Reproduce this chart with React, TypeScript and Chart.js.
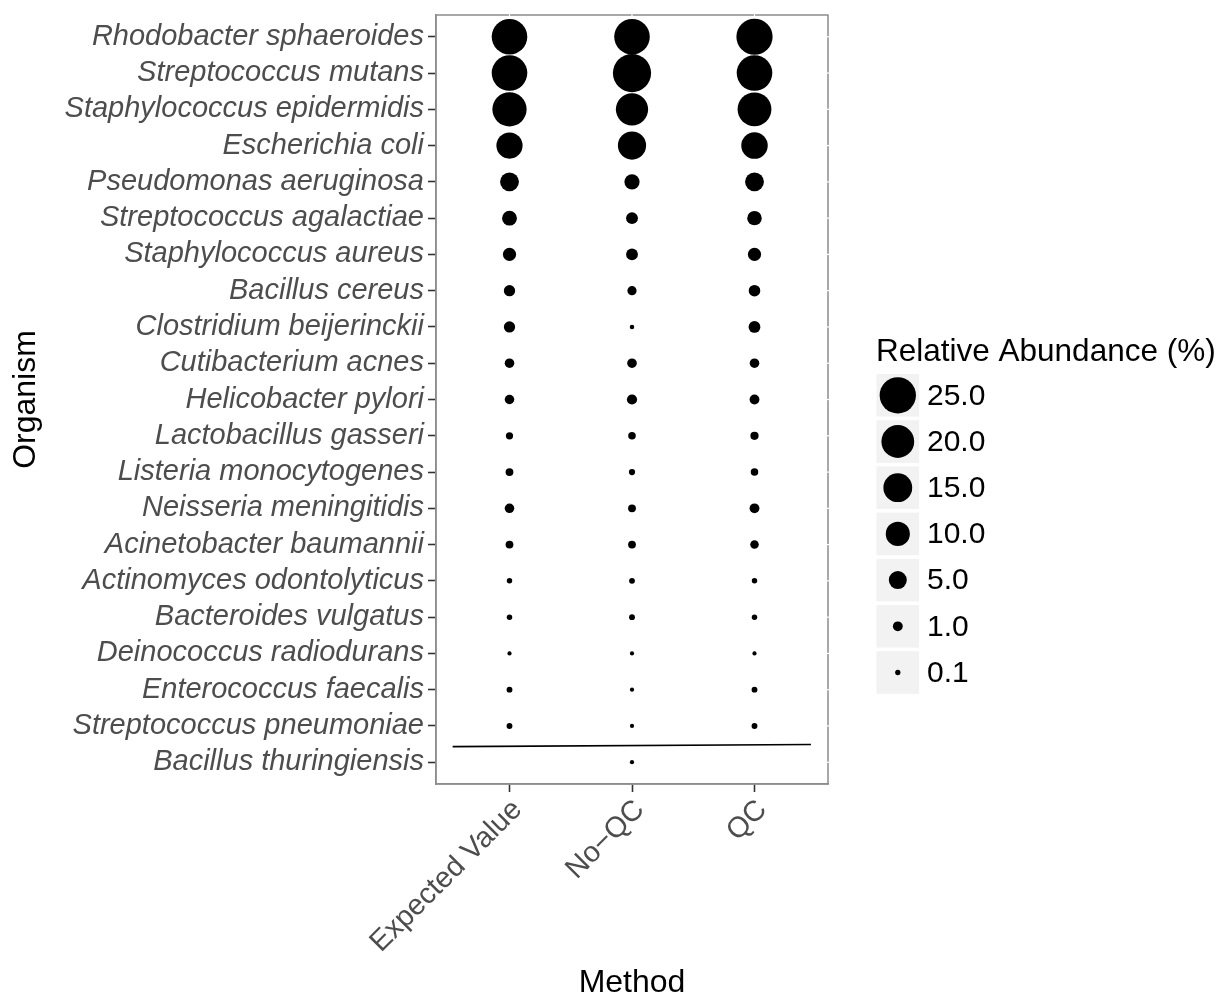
import React, { useEffect, useRef } from 'react';
import { Chart, registerables } from 'chart.js';

Chart.register(...registerables);

const FONT = '"Liberation Sans", Arial, Helvetica, sans-serif';

const methods = ['Expected Value', 'No\u2212QC', 'QC'];

const organisms = [
  'Rhodobacter sphaeroides',
  'Streptococcus mutans',
  'Staphylococcus epidermidis',
  'Escherichia coli',
  'Pseudomonas aeruginosa',
  'Streptococcus agalactiae',
  'Staphylococcus aureus',
  'Bacillus cereus',
  'Clostridium beijerinckii',
  'Cutibacterium acnes',
  'Helicobacter pylori',
  'Lactobacillus gasseri',
  'Listeria monocytogenes',
  'Neisseria meningitidis',
  'Acinetobacter baumannii',
  'Actinomyces odontolyticus',
  'Bacteroides vulgatus',
  'Deinococcus radiodurans',
  'Enterococcus faecalis',
  'Streptococcus pneumoniae',
  'Bacillus thuringiensis',
];

// Relative abundance (%) per organism, one array per method
const expectedValue: (number | null)[] = [24, 24, 22, 12.1, 5.6, 3.1, 2.3, 1.5, 1.5, 0.92, 0.92, 0.37, 0.49, 0.92, 0.49, 0.12, 0.12, 0.024, 0.16, 0.16, null];
const noQC: (number | null)[] = [24, 28, 19.3, 14.3, 3.3, 1.7, 1.7, 0.83, 0.04, 0.92, 1.13, 0.43, 0.21, 0.49, 0.49, 0.16, 0.16, 0.024, 0.024, 0.024, 0.024];
const qc: (number | null)[] = [24.9, 24, 21.4, 12.4, 5.6, 2.9, 2.3, 1.6, 1.7, 0.92, 1.0, 0.58, 0.43, 1.0, 0.65, 0.12, 0.12, 0.024, 0.16, 0.16, null];

const seriesValues = [expectedValue, noQC, qc];

// separator line (data units: method index, organism index)
const separatorX = [-0.464, 2.461];
const separatorY = [19.57, 19.51];

const legendTitle = 'Relative Abundance (%)';
const legendBreaks = [25, 20, 15, 10, 5, 1, 0.1];
const legendLabels = ['25.0', '20.0', '15.0', '10.0', '5.0', '1.0', '0.1'];

// size scale: diameter linear in sqrt(value)
const radiusFor = (v: number) => (3.2 + 6.615 * Math.sqrt(v)) / 2;

const framePlugin = {
  id: 'frame',
  afterDraw(chart: any) {
    const { ctx, chartArea, scales } = chart;
    const { left, top, right, bottom } = chartArea;
    ctx.save();
    ctx.strokeStyle = '#8c8c8c';
    ctx.lineWidth = 1.5;
    ctx.strokeRect(left, top, right - left, bottom - top);
    ctx.strokeStyle = '#ffffff';
    ctx.lineWidth = 1.2;
    organisms.forEach((_, i) => {
      const y = scales.y.getPixelForValue(i);
      ctx.beginPath();
      ctx.moveTo(right - 1.5, y);
      ctx.lineTo(right + 1.5, y);
      ctx.stroke();
    });
    methods.forEach((_, i) => {
      const x = scales.x.getPixelForValue(i);
      ctx.beginPath();
      ctx.moveTo(x, top - 1.5);
      ctx.lineTo(x, top + 1.5);
      ctx.stroke();
    });
    ctx.restore();
  },
};

const sizeLegendPlugin = {
  id: 'sizeLegend',
  afterDraw(chart: any) {
    const { ctx } = chart;
    ctx.save();
    ctx.textAlign = 'left';
    ctx.textBaseline = 'middle';
    ctx.fillStyle = '#000';
    ctx.font = `31.5px ${FONT}`;
    ctx.fillText(legendTitle, 876, 352);
    const boxX = 876.5;
    const boxSize = 42.6;
    legendBreaks.forEach((b, i) => {
      const cy = 395.3 + i * 46.2;
      ctx.fillStyle = '#f2f2f2';
      ctx.fillRect(boxX, cy - boxSize / 2, boxSize, boxSize);
      ctx.fillStyle = '#000';
      ctx.beginPath();
      ctx.arc(boxX + boxSize / 2, cy, radiusFor(b), 0, Math.PI * 2);
      ctx.fill();
      ctx.font = `30px ${FONT}`;
      ctx.fillText(legendLabels[i], 927, cy + 1);
    });
    ctx.restore();
  },
};

export default function App() {
  const canvasRef = useRef<HTMLCanvasElement | null>(null);

  useEffect(() => {
    if (!canvasRef.current) return;
    Chart.defaults.font.family = FONT;

    const pointSets = methods.map((m, mi) => ({
      type: 'scatter' as const,
      label: m,
      data: organisms
        .map((_, oi) => {
          const v = seriesValues[mi][oi];
          return v == null ? null : { x: mi, y: oi, v };
        })
        .filter((d) => d !== null),
      backgroundColor: '#000',
      borderWidth: 0,
      pointRadius: (ctx: any) => (ctx.raw ? radiusFor(ctx.raw.v) : 0),
      pointHoverRadius: (ctx: any) => (ctx.raw ? radiusFor(ctx.raw.v) : 0),
    }));

    const lineSet = {
      type: 'line' as const,
      label: 'separator',
      data: separatorX.map((x, i) => ({ x, y: separatorY[i] })),
      borderColor: '#000',
      borderWidth: 1.6,
      pointRadius: 0,
      fill: false,
      tension: 0,
    };

    const chart = new Chart(canvasRef.current, {
      type: 'scatter',
      data: { datasets: [...pointSets, lineSet] as any },
      options: {
        animation: false,
        responsive: false,
        maintainAspectRatio: false,
        layout: { autoPadding: false, padding: { top: 15, right: 392, left: 0, bottom: 0 } },
        plugins: {
          legend: { display: false },
          tooltip: { enabled: false },
        },
        scales: {
          x: {
            type: 'linear',
            min: -0.6,
            max: 2.6,
            afterBuildTicks: (s: any) => {
              s.ticks = methods.map((_, i) => ({ value: i }));
            },
            afterFit: (s: any) => {
              s.height = 213;
              s.paddingLeft = 0;
              s.paddingRight = 0;
            },
            ticks: {
              callback: (v: any) => methods[v as number],
              autoSkip: false,
              maxRotation: 45,
              minRotation: 45,
              color: '#4d4d4d',
              font: { family: FONT, size: 29 },
              padding: 1,
              labelOffset: 8,
            },
            grid: {
              drawOnChartArea: false,
              drawTicks: true,
              tickLength: 8,
              tickColor: '#333333',
              tickWidth: 1.6,
            },
            border: { display: true, color: '#8c8c8c', width: 1.5 },
            title: {
              display: true,
              text: 'Method',
              color: '#000',
              font: { family: FONT, size: 32, lineHeight: 0.85 },
              padding: { top: 0, bottom: 0 },
            },
          },
          y: {
            type: 'linear',
            reverse: true,
            min: -0.6,
            max: 20.6,
            afterBuildTicks: (s: any) => {
              s.ticks = organisms.map((_, i) => ({ value: i }));
            },
            afterFit: (s: any) => {
              s.width = 436;
              s.paddingTop = 0;
              s.paddingBottom = 0;
            },
            ticks: {
              callback: (v: any) => organisms[v as number],
              autoSkip: false,
              color: '#4d4d4d',
              font: { family: FONT, size: 29, style: 'italic' },
              padding: 4,
            },
            grid: {
              drawOnChartArea: false,
              drawTicks: true,
              tickLength: 8,
              tickColor: '#333333',
              tickWidth: 1.6,
            },
            border: { display: true, color: '#8c8c8c', width: 1.5 },
            title: {
              display: true,
              text: 'Organism',
              color: '#000',
              font: { family: FONT, size: 32 },
              padding: { top: 7, bottom: 0 },
            },
          },
        },
      },
      plugins: [framePlugin, sizeLegendPlugin],
    });

    return () => chart.destroy();
  }, []);

  return (
    <div style={{ position: 'fixed', left: 0, top: 0, width: 1220, height: 997, background: '#fff' }}>
      <canvas ref={canvasRef} width={1220} height={997} style={{ display: 'block', width: 1220, height: 997 }} />
    </div>
  );
}
